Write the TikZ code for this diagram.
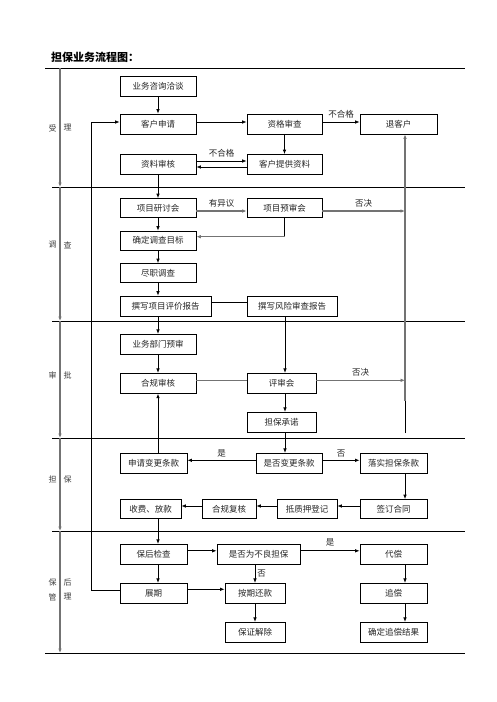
\documentclass[tikz,border=0pt]{standalone}
\usepackage{fontspec}
\newfontfamily\cjk{Noto Sans CJK SC}
\usetikzlibrary{arrows.meta}
\begin{document}
\begin{tikzpicture}[x=1pt,y=-1pt,
  bx/.style={draw, line width=0.8pt, minimum height=20pt, inner sep=0pt,
    font=\cjk\fontsize{8.5}{10}\selectfont, text=black!85},
  arr/.style={-{Latex[length=4.5pt,width=3.6pt]}, line width=0.8pt},
  gline/.style={line width=1.3pt, draw=black!55},
  plain/.style={line width=0.8pt},
  sep/.style={line width=0.8pt},
  lbl/.style={font=\cjk\fontsize{8.5}{10}\selectfont, text=black!85, inner sep=0pt},
  sec/.style={font=\cjk\fontsize{8}{10}\selectfont, text=black!75, inner sep=0pt}]
\useasboundingbox (0,0) rectangle (496,702);
\fill[white] (0,0) rectangle (496,702);

% title
\node[anchor=west, inner sep=0pt, font=\cjk\bfseries\fontsize{11}{13}\selectfont] (title) at (51,57) {担保业务流程图：};

% separators
\coordinate (s0a) at (45,68.3);  \coordinate (s0b) at (465,68.3);
\coordinate (s1a) at (52,187);   \coordinate (s1b) at (465,187);
\coordinate (s2a) at (52,321);   \coordinate (s2b) at (465,321);
\coordinate (s3a) at (52,438);   \coordinate (s3b) at (465,438);
\coordinate (s4a) at (52,531);   \coordinate (s4b) at (465,531);
\coordinate (s5a) at (45,653);   \coordinate (s5b) at (465,653);
\foreach \i in {0,...,5} \draw[sep] (s\i a) -- (s\i b);

% left timeline arrows
\coordinate (t0) at (60,68.3);
\coordinate (t1) at (60,187);
\coordinate (t2) at (60,321);
\coordinate (t3) at (60,438);
\coordinate (t4) at (60,531);
\coordinate (t5) at (60,653);
\draw[arr, gline] (t0) -- (t1);
\draw[arr, gline] (t1) -- (t2);
\draw[arr, gline] (t2) -- (t3);
\draw[arr, gline] (t3) -- (t4);
\draw[arr, gline] (t4) -- (t5);

% section labels
\node[sec] (l1a) at (52.5,128) {受};  \node[sec] (l1b) at (67.5,128) {理};
\node[sec] (l2a) at (52.5,245) {调};  \node[sec] (l2b) at (67.5,245) {查};
\node[sec] (l3a) at (52.5,375) {审};  \node[sec] (l3b) at (67.5,375) {批};
\node[sec] (l4a) at (52.5,479) {担};  \node[sec] (l4b) at (67.5,479) {保};
\node[sec] (l5a) at (52.5,582) {保};  \node[sec] (l5b) at (67.5,582) {后};
\node[sec] (l5c) at (52.5,597) {管};  \node[sec] (l5d) at (67.5,597) {理};

% column coordinates
\coordinate (c91) at (91,0);
\coordinate (c158) at (158,0);
\coordinate (c285) at (285,0);
\coordinate (c405) at (405,0);

% boxes
\node[bx, minimum width=76pt] (zx)  at (158,86)    {业务咨询洽谈};
\node[bx, minimum width=76pt] (sq)  at (158,124)   {客户申请};
\node[bx, minimum width=75pt] (zg)  at (284.5,124) {资格审查};
\node[bx, minimum width=77pt] (tk)  at (398.5,124) {退客户};
\node[bx, minimum width=76pt] (zl)  at (158,164.5) {资料审核};
\node[bx, minimum width=75pt] (tg)  at (284.5,164.5) {客户提供资料};

\node[bx, minimum width=76pt, minimum height=19pt] (yt) at (158,208) {项目研讨会};
\node[bx, minimum width=75pt, minimum height=19pt] (ys) at (284.5,208) {项目预审会};
\node[bx, minimum width=76pt, minimum height=19pt] (qd) at (158,240.5) {确定调查目标};
\node[bx, minimum width=76pt, minimum height=19pt] (jz) at (158,273) {尽职调查};
\node[bx, minimum width=91pt] (zxp) at (165.5,306) {撰写项目评价报告};
\node[bx, minimum width=90pt] (zfx) at (292,306)   {撰写风险审查报告};

\node[bx, minimum width=76pt] (yb) at (158,344.3)   {业务部门预审};
\node[bx, minimum width=76pt] (hg) at (158,383.3)   {合规审核};
\node[bx, minimum width=69pt] (ps) at (281.5,383.3) {评审会};
\node[bx, minimum width=69pt] (cn) at (281.5,422.3) {担保承诺};

\node[bx, minimum width=67pt] (sb) at (153.5,463.3) {申请变更条款};
\node[bx, minimum width=66pt] (sf) at (289,463.3)   {是否变更条款};
\node[bx, minimum width=67pt] (ls) at (393.5,463.3) {落实担保条款};
\node[bx, minimum width=61pt, minimum height=19pt] (sk) at (150.5,509) {收费、放款};
\node[bx, minimum width=54pt, minimum height=19pt] (fh) at (229,509)   {合规复核};
\node[bx, minimum width=60pt, minimum height=19pt] (dz) at (307,509)   {抵质押登记};
\node[bx, minimum width=67pt, minimum height=19pt] (qh) at (393.5,509) {签订合同};

\node[bx, minimum width=67pt] (bh) at (153.5,554.3) {保后检查};
\node[bx, minimum width=83pt] (bl) at (258.5,554.3) {是否为不良担保};
\node[bx, minimum width=67pt] (dc) at (393.5,554.3) {代偿};
\node[bx, minimum width=67pt] (zq) at (153.5,593.3) {展期};
\node[bx, minimum width=60pt] (aq) at (255,593.3)   {按期还款};
\node[bx, minimum width=67pt] (zc) at (393.5,593.3) {追偿};
\node[bx, minimum width=60pt] (bj) at (255,632.3)   {保证解除};
\node[bx, minimum width=67pt] (qj) at (393.5,632.3) {确定追偿结果};

% ---- 受理
\draw[arr] (zx.south) -- (sq.north);
\draw[arr] ([yshift=2pt]sq.east) -- ([yshift=2pt]zg.west);
\draw[arr] ([yshift=2pt]zg.east) -- ([yshift=2pt]tk.west) node[lbl, midway, above=3pt] (lb1) {不合格};
\draw[arr] (zg.south) -- (tg.north);
\draw[arr] ([yshift=3.5pt]zl.east) -- ([yshift=3.5pt]tg.west) node[lbl, midway, above=3pt] (lb2) {不合格};
\draw[arr] ([yshift=-2.5pt]tg.west) -- ([yshift=-2.5pt]zl.east);

% ---- 调查
\draw[arr] (zl.south) -- (yt.north);
\draw[arr, gline] ([yshift=-3pt]yt.east) -- ([yshift=-3pt]ys.west) node[lbl, midway, above=3pt] (lb3) {有异议};
\draw[arr, gline] ([yshift=-3pt]ys.east) -- ([yshift=-3pt]ys.east -| c405) node[lbl, midway, above=3pt] (lb4) {否决};
\draw[plain] (ys.south) -- ([yshift=3.8pt]ys.south |- qd.east);
\draw[arr, gline] ([yshift=3.8pt]ys.south |- qd.east) -- ([yshift=3.8pt]qd.east);
\draw[arr] (yt.south) -- (qd.north);
\draw[arr] (qd.south) -- (jz.north);
\draw[arr] (jz.south) -- (zxp.north -| jz.south);
\draw[plain] ([yshift=3.5pt]zxp.east) -- ([yshift=3.5pt]zfx.west);

% ---- 审批
\draw[arr] (zxp.south -| yb.north) -- (yb.north);
\draw[arr] (zfx.south -| c285) -- (ps.north -| c285);
\draw[arr] (yb.south) -- (hg.north);
\draw[gline] ([yshift=3pt]hg.east) -- ([yshift=3pt]ps.west);
\draw[arr, gline] ([yshift=3pt]ps.east) -- ([yshift=3pt]ps.east -| c405) node[lbl, midway, above=3pt] (lb5) {否决};
\draw[arr] (ps.south -| c285) -- (cn.north -| c285);
\coordinate (v405a) at (405,433);
\coordinate (v405b) at (405,395);
\coordinate (v405c) at (405,401);
\draw[plain] (v405a) -- (v405b);
\draw[arr, gline] (v405c) -- (tk.south -| c405);

% ---- 担保
\draw[arr] (cn.south -| c285) -- (sf.north -| c285);
\draw[arr] ([yshift=3pt]sf.west) -- ([yshift=3pt]sb.east) node[lbl, midway, above=3pt] (lb6) {是};
\draw[arr] ([yshift=3pt]sf.east) -- ([yshift=3pt]ls.west) node[lbl, midway, above=3pt] (lb7) {否};
\draw[arr] (sb.north -| c158) -- (hg.south -| c158);
\draw[arr] (ls.south -| c405) -- (qh.north -| c405);
\draw[arr] ([yshift=3pt]qh.west) -- ([yshift=3pt]dz.east);
\draw[arr] ([yshift=3pt]dz.west) -- ([yshift=3pt]fh.east);
\draw[arr] ([yshift=3pt]fh.west) -- ([yshift=3pt]sk.east);

% ---- 保后管理
\draw[arr] (sk.south -| c158) -- (bh.north -| c158);
\draw[arr] ([yshift=3.5pt]bh.east) -- ([yshift=3.5pt]bl.west);
\draw[arr] ([yshift=3.5pt]bl.east) -- ([yshift=3.5pt]dc.west) node[lbl, midway, above=4pt] (lb8) {是};
\draw[arr] (bl.south -| aq.north) -- (aq.north) node[lbl, midway, right=2pt] (lb9) {否};
\draw[arr] (bh.south -| c158) -- (zq.north -| c158);
\draw[arr] ([yshift=4pt]zq.east) -- ([yshift=4pt]aq.west);
\draw[arr] (aq.south) -- (bj.north);
\draw[arr] (dc.south -| c405) -- (zc.north -| c405);
\draw[arr] (zc.south -| c405) -- (qj.north -| c405);

% loop back from 展期 to 客户申请
\draw[arr] ([yshift=3pt]zq.west) -- ([yshift=3pt]zq.west -| c91) -- ([yshift=2pt]sq.west -| c91) -- ([yshift=2pt]sq.west);
\end{tikzpicture}
\end{document}
